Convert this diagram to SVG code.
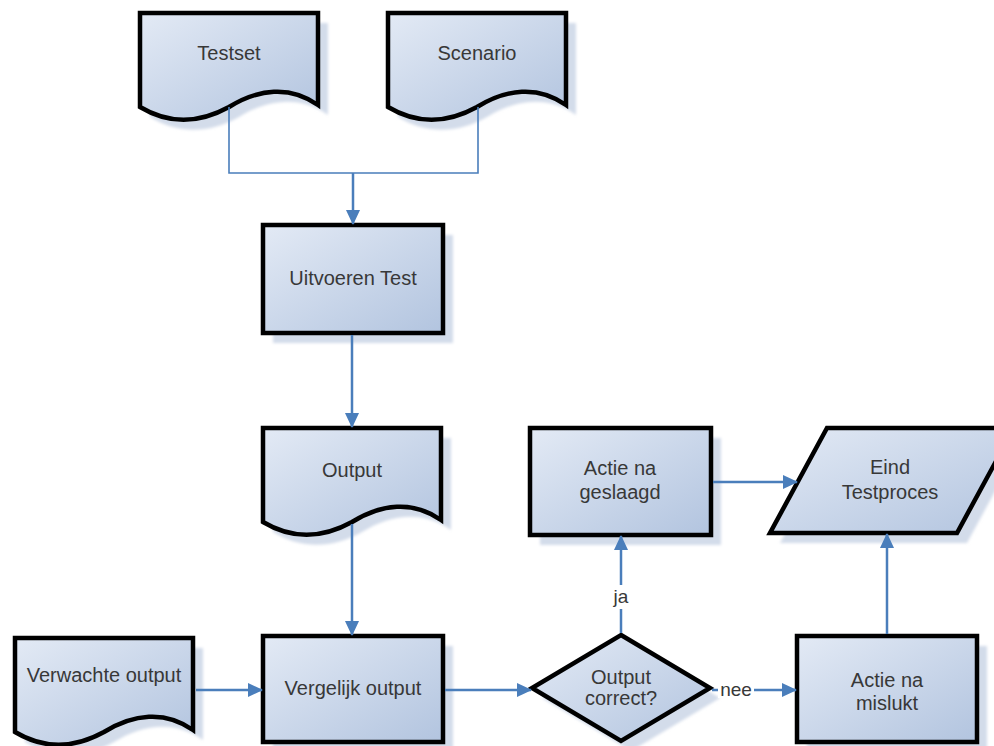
<svg xmlns="http://www.w3.org/2000/svg" width="994" height="746" viewBox="0 0 994 746">
  <style>
    .node { fill: url(#fill); stroke: #000; stroke-width: 4.5; stroke-linejoin: miter; }
    .shadow { fill: #d3dcea; filter: url(#soft); }
    .lbl { font-family: "Liberation Sans", Arial, sans-serif; font-size: 20px; fill: #383838; text-anchor: middle; }
    .edge { fill: none; stroke: #4a7ebb; stroke-width: 2.5; }
    .thin { fill: none; stroke: #4a7ebb; stroke-width: 1.6; }
    .tag { font-family: "Liberation Sans", Arial, sans-serif; font-size: 19px; fill: #383838; text-anchor: middle; }
  </style>
  <defs>
    <linearGradient id="fill" x1="0" y1="0" x2="1" y2="1">
      <stop offset="0" stop-color="#e3eaf5"/>
      <stop offset="1" stop-color="#b2c4df"/>
    </linearGradient>
    <filter id="soft" x="-10%" y="-10%" width="120%" height="120%">
      <feGaussianBlur stdDeviation="1.5"/>
    </filter>
    <marker id="arrow" markerUnits="userSpaceOnUse" markerWidth="16" markerHeight="14" refX="14" refY="7" orient="auto">
      <path d="M0,0 L15,7 L0,14 Z" fill="#4a7ebb"/>
    </marker>
    <!-- document shape: flat top, wavy bottom -->
    <path id="doc" d="M0,0 H178 V92 C150,72 118,76 89,94 C60,110 30,112 0,94 Z"/>
  </defs>

  <rect width="994" height="746" fill="#fff"/>

  <g id="testset">
    <use href="#doc" class="shadow" x="150" y="23"/>
    <use href="#doc" class="node" x="140" y="13"/>
    <text class="lbl" x="229" y="60">Testset</text>
  </g>

  <g id="scenario">
    <use href="#doc" class="shadow" x="398" y="23"/>
    <use href="#doc" class="node" x="388" y="13"/>
    <text class="lbl" x="477" y="60">Scenario</text>
  </g>

  <g id="uitvoeren-test">
    <rect class="shadow" x="273" y="235" width="180" height="108"/>
    <rect class="node" x="263" y="225" width="180" height="108"/>
    <text class="lbl" x="353" y="285">Uitvoeren Test</text>
  </g>

  <g id="output">
    <use href="#doc" class="shadow" x="273" y="438"/>
    <use href="#doc" class="node" x="263" y="428"/>
    <text class="lbl" x="352" y="477">Output</text>
  </g>

  <g id="verwachte-output">
    <use href="#doc" class="shadow" x="25" y="648"/>
    <use href="#doc" class="node" x="15" y="638"/>
    <text class="lbl" x="104" y="682">Verwachte output</text>
  </g>

  <g id="vergelijk-output">
    <rect class="shadow" x="273" y="646" width="180" height="106"/>
    <rect class="node" x="263" y="636" width="180" height="106"/>
    <text class="lbl" x="353" y="695">Vergelijk output</text>
  </g>

  <g id="output-correct">
    <polygon class="shadow" points="631,645 720,698 631,751 542,698"/>
    <polygon class="node" points="621,635 710,688 621,741 532,688"/>
    <text class="lbl" x="621" y="684">Output</text>
    <text class="lbl" x="621" y="705">correct?</text>
  </g>

  <g id="actie-geslaagd">
    <rect class="shadow" x="540" y="438" width="181" height="107"/>
    <rect class="node" x="530" y="428" width="181" height="107"/>
    <text class="lbl" x="620" y="475">Actie na</text>
    <text class="lbl" x="620" y="499">geslaagd</text>
  </g>

  <g id="eind-testproces">
    <polygon class="shadow" points="837,438 1024,438 967,543 780,543"/>
    <polygon class="node" points="827,428 1014,428 957,533 770,533"/>
    <text class="lbl" x="890" y="474">Eind</text>
    <text class="lbl" x="890" y="499">Testproces</text>
  </g>

  <g id="actie-mislukt">
    <rect class="shadow" x="807" y="646" width="180" height="106"/>
    <rect class="node" x="797" y="636" width="180" height="106"/>
    <text class="lbl" x="887" y="687">Actie na</text>
    <text class="lbl" x="887" y="710">mislukt</text>
  </g>

  <g id="connectors">
    <path class="thin" d="M229,107 V173 H478 V107"/>
    <path class="edge" d="M353,173 V224" marker-end="url(#arrow)"/>
    <path class="edge" d="M352,335 V427" marker-end="url(#arrow)"/>
    <path class="edge" d="M352,524 V635" marker-end="url(#arrow)"/>
    <path class="edge" d="M196,690 H262" marker-end="url(#arrow)"/>
    <path class="edge" d="M445,690 H531" marker-end="url(#arrow)"/>
    <path class="edge" d="M712,690 H796" marker-end="url(#arrow)"/>
    <path class="edge" d="M621,633 V536" marker-end="url(#arrow)"/>
    <path class="edge" d="M713,482 H797" marker-end="url(#arrow)"/>
    <path class="edge" d="M887,634 V534" marker-end="url(#arrow)"/>
    <rect x="610" y="585" width="22" height="24" fill="#fff"/>
    <text class="tag" x="621" y="603">ja</text>
    <rect x="718" y="680" width="36" height="18" fill="#fff"/>
    <text class="tag" x="736" y="696">nee</text>
  </g>
</svg>
